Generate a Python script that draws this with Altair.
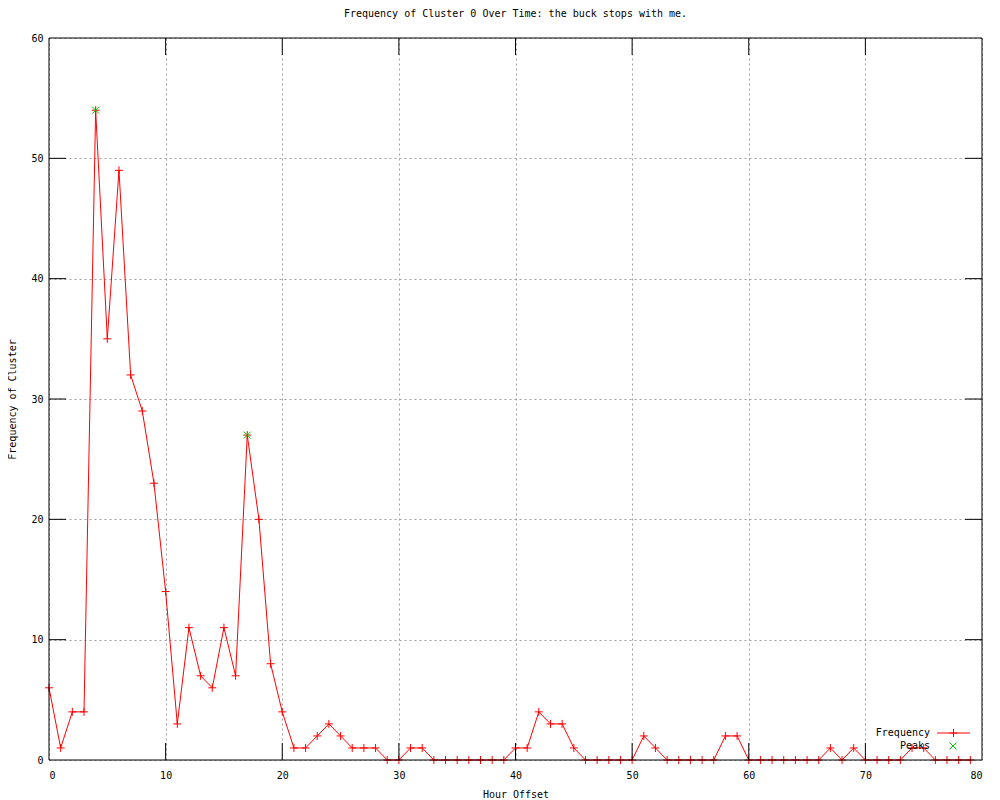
import altair as alt
import pandas as pd

hours = list(range(80))
freq = [6, 1, 4, 4, 54, 35, 49, 32, 29, 23,
        14, 3, 11, 7, 6, 11, 7, 27, 20, 8,
        4, 1, 1, 2, 3, 2, 1, 1, 1, 0,
        0, 1, 1, 0, 0, 0, 0, 0, 0, 0,
        1, 1, 4, 3, 3, 1, 0, 0, 0, 0,
        0, 2, 1, 0, 0, 0, 0, 0, 2, 2,
        0, 0, 0, 0, 0, 0, 0, 1, 0, 1,
        0, 0, 0, 0, 1, 1, 0, 0, 0, 0]
peak_hours = [4, 17]
peak_freq = [54, 27]
x_ticks = [10, 20, 30, 40, 50, 60, 70]
y_ticks = [10, 20, 30, 40, 50]

W, H = 933, 722
TL = 17
FONT = "DejaVu Sans Mono"
RED = "#ff0000"
GREEN = "#00c000"
PLUS = "M-1,0L1,0M0,-1L0,1"
CROSS = "M-1,-1L1,1M1,-1L-1,1"

df = pd.DataFrame({"x": hours, "y": freq})
peaks = pd.DataFrame({"x": peak_hours, "y": peak_freq})
xt = pd.DataFrame({"x": x_ticks})
yt = pd.DataFrame({"y": y_ticks})
one = pd.DataFrame({"a": [0]})

xscale = alt.Scale(domain=[0, 80], nice=False, zero=False)
yscale = alt.Scale(domain=[0, 60], nice=False)

common = dict(grid=True, ticks=False, domain=False,
              labelFont=FONT, labelFontSize=10, labelColor="black",
              titleFont=FONT, titleFontSize=10, titleFontWeight="normal", titleColor="black",
              gridColor="#a0a0a0", gridDash=[2, 3], gridWidth=1, gridOpacity=1)
xaxis = alt.Axis(values=list(range(0, 81, 10)), title="Hour Offset",
                 labelPadding=10, titlePadding=9, **common)
yaxis = alt.Axis(values=list(range(0, 61, 10)), title="Frequency of Cluster",
                 labelPadding=6, titlePadding=13, **common)

X = alt.X("x:Q", scale=xscale, axis=xaxis)
Y = alt.Y("y:Q", scale=yscale, axis=yaxis)

line = alt.Chart(df).mark_line(color=RED, strokeWidth=1).encode(x=X, y=Y)
pts = alt.Chart(df).mark_point(shape=PLUS, size=64, color=RED, filled=False,
                               strokeWidth=1, opacity=1).encode(x=X, y=Y)
pk = alt.Chart(peaks).mark_point(shape=CROSS, size=49, color=GREEN, filled=False,
                                 strokeWidth=1, opacity=1).encode(x=X, y=Y)

tick_b = alt.Chart(xt).mark_rule(color="black", strokeWidth=1).encode(
    x=X, y=alt.value(H), y2=alt.value(H - TL))
tick_t = alt.Chart(xt).mark_rule(color="black", strokeWidth=1).encode(
    x=X, y=alt.value(0), y2=alt.value(TL))
tick_l = alt.Chart(yt).mark_rule(color="black", strokeWidth=1).encode(
    y=Y, x=alt.value(0), x2=alt.value(TL))
tick_r = alt.Chart(yt).mark_rule(color="black", strokeWidth=1).encode(
    y=Y, x=alt.value(W), x2=alt.value(W - TL))

leg_t1 = alt.Chart(one).mark_text(align="right", baseline="middle", font=FONT,
                                  fontSize=10, color="black").encode(
    x=alt.value(881), y=alt.value(695), text=alt.value("Frequency"))
leg_t2 = alt.Chart(one).mark_text(align="right", baseline="middle", font=FONT,
                                  fontSize=10, color="black").encode(
    x=alt.value(881), y=alt.value(708), text=alt.value("Peaks"))
leg_l = alt.Chart(one).mark_rule(color=RED, strokeWidth=1).encode(
    x=alt.value(888), x2=alt.value(921), y=alt.value(695))
leg_p = alt.Chart(one).mark_point(shape=PLUS, size=64, color=RED, filled=False,
                                  strokeWidth=1, opacity=1).encode(
    x=alt.value(904.5), y=alt.value(695))
leg_x = alt.Chart(one).mark_point(shape=CROSS, size=49, color=GREEN, filled=False,
                                  strokeWidth=1, opacity=1).encode(
    x=alt.value(904), y=alt.value(708))

border = alt.Chart(one).mark_rect(fillOpacity=0, stroke="black", strokeWidth=1).encode(
    x=alt.value(0), x2=alt.value(W), y=alt.value(0), y2=alt.value(H))

chart = alt.layer(
    line, pts, pk, tick_b, tick_t, tick_l, tick_r,
    leg_t1, leg_t2, leg_l, leg_p, leg_x, border
).properties(
    width=W, height=H,
    background="white",
    title=alt.TitleParams("Frequency of Cluster 0 Over Time: the buck stops with me.",
                          font=FONT, fontSize=10, fontWeight="normal", color="black",
                          offset=14, anchor="middle"),
    autosize=alt.AutoSizeParams(type="none"),
    padding={"left": 41, "top": 30, "right": 10, "bottom": 40},
).configure_view(stroke=None)

chart.save("out.html", embed_options={"renderer": "svg", "actions": False})
